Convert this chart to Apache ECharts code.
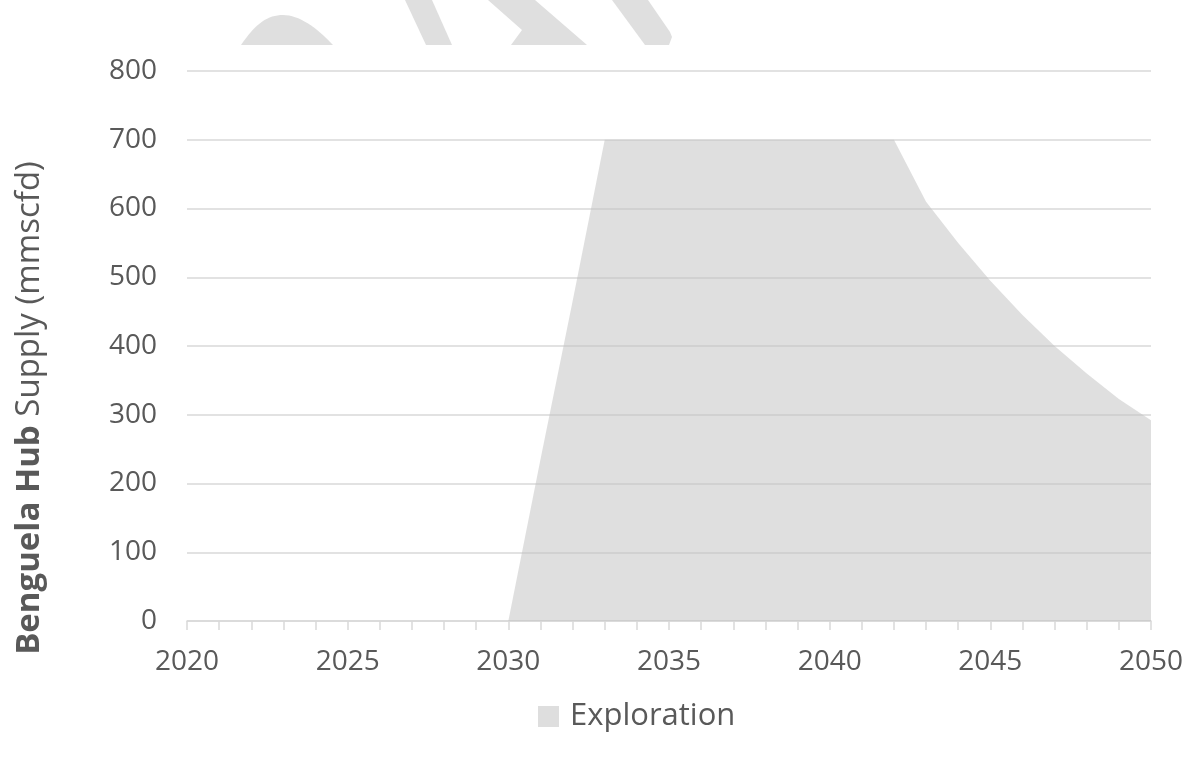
<!DOCTYPE html>
<html>
<head>
<meta charset="utf-8">
<script src="https://cdn.jsdelivr.net/npm/echarts@6/dist/echarts.min.js"></script>
<style>
  html, body { margin: 0; padding: 0; background: #ffffff; }
  #chart { width: 1187px; height: 757px; }
</style>
</head>
<body>
<div id="chart"></div>
<script>
// Benguela Hub gas supply outlook, exploration volumes (mmscfd)
const years = [2020, 2021, 2022, 2023, 2024, 2025, 2026, 2027, 2028, 2029, 2030,
               2031, 2032, 2033, 2034, 2035, 2036, 2037, 2038, 2039, 2040,
               2041, 2042, 2043, 2044, 2045, 2046, 2047, 2048, 2049, 2050];
const exploration = [0, 0, 0, 0, 0, 0, 0, 0, 0, 0, 0,
                     235, 465, 700, 700, 700, 700, 700, 700, 700, 700,
                     700, 700, 610, 550, 495, 445, 400, 360, 323, 292];
const seriesName = 'Exploration';
const yTitleBold = 'Benguela Hub';
const yTitleRest = ' Supply (mmscfd)';
const yTicks = { min: 0, max: 800, interval: 100 };
const xTicks = { min: 2020, max: 2050, interval: 5 };

const textColor = '#595959';
const gridColor = '#d9d9d9';
const font = '"Open Sans", "Liberation Sans", sans-serif';

const chart = echarts.init(document.getElementById('chart'), null, { renderer: 'canvas' });

const fillShape = { fill: '#dfdfdf' };

// sample two cubic segments into an outline for the rounded header mark
function cubic(p0, p1, p2, p3, n) {
  const pts = [];
  for (let i = 0; i <= n; i++) {
    const t = i / n, u = 1 - t;
    pts.push([
      u * u * u * p0[0] + 3 * u * u * t * p1[0] + 3 * u * t * t * p2[0] + t * t * t * p3[0],
      u * u * u * p0[1] + 3 * u * u * t * p1[1] + 3 * u * t * t * p2[1] + t * t * t * p3[1]
    ]);
  }
  return pts;
}
const archPts = cubic([241, 45], [256, 23], [268, 15], [283, 15], 16)
  .concat(cubic([283, 15], [299, 15], [316, 27], [333, 45], 16).slice(1));

chart.setOption({
  animation: false,
  backgroundColor: '#ffffff',
  textStyle: { fontFamily: font },
  grid: { left: 187, right: 36, top: 71, bottom: 136, containLabel: false },
  legend: {
    data: [{ name: seriesName, icon: 'rect' }],
    left: 533,
    top: 696,
    itemWidth: 21,
    itemHeight: 21,
    textStyle: { color: textColor, fontSize: 31, fontFamily: font, padding: [0, 0, 0, 6] }
  },
  xAxis: {
    type: 'value',
    min: xTicks.min,
    max: xTicks.max,
    interval: xTicks.interval,
    axisLine: { show: true, lineStyle: { color: gridColor, width: 1.5 } },
    axisTick: { show: true, length: 9, lineStyle: { color: gridColor, width: 1.5 } },
    minorTick: { show: true, splitNumber: 5, length: 9, lineStyle: { color: gridColor, width: 1.5 } },
    splitLine: { show: false },
    axisLabel: {
      color: textColor, fontSize: 28, fontFamily: font, margin: 27,
      formatter: v => String(v)
    }
  },
  yAxis: {
    type: 'value',
    min: yTicks.min,
    max: yTicks.max,
    interval: yTicks.interval,
    axisLine: { show: false },
    axisTick: { show: false },
    splitLine: { show: true, lineStyle: { color: gridColor, width: 1.5 } },
    axisLabel: { color: textColor, fontSize: 28, fontFamily: font, margin: 30 }
  },
  series: [{
    name: seriesName,
    type: 'line',
    data: years.map((y, i) => [y, exploration[i]]),
    showSymbol: false,
    symbol: 'none',
    lineStyle: { width: 0 },
    itemStyle: { color: '#dedede' },
    areaStyle: { color: 'rgb(194,194,194)', opacity: 0.53 },
    z: 3
  }],
  graphic: [
    { type: 'polygon', shape: { points: archPts }, style: fillShape, silent: true },
    { type: 'polygon', shape: { points: [[405, 0], [432, 0], [452, 45], [426, 45]] }, style: fillShape, silent: true },
    { type: 'polygon', shape: { points: [[488, 0], [535, 0], [587, 45], [511, 45], [522, 30]] }, style: fillShape, silent: true },
    { type: 'polygon', shape: { points: [[612, 0], [648, 0], [670, 32], [672, 37], [669, 45], [645, 45]] }, style: fillShape, silent: true },
    {
      // vertical axis title, bold lead-in followed by regular text
      type: 'text',
      x: 30,
      y: 408,
      rotation: Math.PI / 2,
      silent: true,
      style: {
        text: '{b|' + yTitleBold + '}{r|' + yTitleRest + '}',
        align: 'center',
        verticalAlign: 'middle',
        fill: textColor,
        font: '33px ' + font,
        rich: {
          b: { fill: textColor, fontSize: 33, fontWeight: 'bold', fontFamily: font },
          r: { fill: textColor, fontSize: 33, fontFamily: font }
        }
      }
    }
  ]
});
</script>
</body>
</html>
